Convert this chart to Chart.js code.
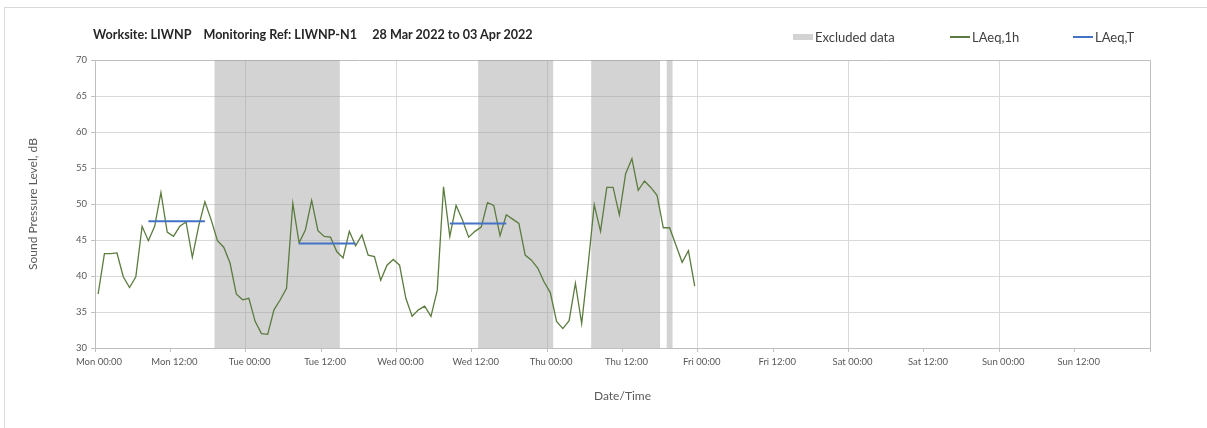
<!DOCTYPE html>
<html>
<head>
<meta charset="utf-8">
<script src="https://cdn.jsdelivr.net/npm/chart.js@4.4.1/dist/chart.umd.min.js"></script>
<style>
  html, body { margin: 0; padding: 0; background: #fff; }
  #wrap { position: relative; width: 1207px; height: 428px; overflow: hidden; font-family: Lato, "Open Sans", sans-serif; }
  #frame { position: absolute; left: 4px; top: 7px; right: -2px; bottom: -2px; border-left: 1px solid #d9d9d9; border-top: 1px solid #d9d9d9; pointer-events: none; }
  #title { position: absolute; left: 93px; top: 27px; font-weight: bold; font-size: 12.6px; color: #262626; white-space: pre; }
  .leg { position: absolute; top: 29px; font-size: 13px; color: #404040; white-space: nowrap; display: flex; align-items: center; }
  .leg .sw { display: inline-block; width: 20px; margin-right: 2px; }
  #chartCanvas { position: absolute; left: 0; top: 0; }
</style>
</head>
<body>
<div id="wrap">
  <canvas id="chartCanvas" width="1207" height="428"></canvas>
  <div id="frame"></div>
  <div id="title">Worksite: LIWNP    Monitoring Ref: LIWNP-N1     28 Mar 2022 to 03 Apr 2022</div>
  <div class="leg" style="left:793px"><span class="sw" style="height:6px;background:#d3d3d3"></span>Excluded data</div>
  <div class="leg" style="left:950px"><span class="sw" style="height:1.3px;background:#5b7b3f"></span>LAeq,1h</div>
  <div class="leg" style="left:1073px"><span class="sw" style="height:2px;background:#4472c4"></span>LAeq,T</div>
</div>
<script>
// ------- Data (hours from Mon 28 Mar 00:00) -------
const xTickLabels = [
  "Mon 00:00", "Mon 12:00", "Tue 00:00", "Tue 12:00", "Wed 00:00", "Wed 12:00", "Thu 00:00",
  "Thu 12:00", "Fri 00:00", "Fri 12:00", "Sat 00:00", "Sat 12:00", "Sun 00:00", "Sun 12:00"
];

// hourly LAeq, one value per hour, plotted mid-hour
const laeq1h = [
  37.5, 43.1, 43.1, 43.2, 39.9, 38.4, 39.9, 46.9, 44.9, 46.9, 51.6, 46.1,
  45.5, 46.9, 47.5, 42.6, 46.9, 50.3, 47.8, 44.9, 44.0, 41.8, 37.5, 36.7,
  36.9, 33.7, 32.0, 31.9, 35.3, 36.7, 38.3, 50.1, 44.6, 46.4, 50.5, 46.3,
  45.5, 45.4, 43.4, 42.5, 46.2, 44.2, 45.7, 42.9, 42.7, 39.4, 41.5, 42.3,
  41.5, 36.9, 34.4, 35.3, 35.8, 34.4, 38.0, 52.4, 45.5, 49.8, 47.8, 45.4,
  46.2, 46.8, 50.2, 49.8, 45.6, 48.5, 47.9, 47.3, 42.9, 42.2, 41.1, 39.2,
  37.7, 33.7, 32.7, 33.8, 39.0, 33.4, 41.3, 49.9, 46.2, 52.3, 52.3, 48.5,
  54.2, 56.3, 51.9, 53.2, 52.3, 51.2, 46.7, 46.7, 44.3, 41.9, 43.5, 38.6
];

// LAeq,T over the daytime periods
const periodStart = [8.5, 32.5, 56.5];
const periodEnd = [17.5, 41.5, 65.5];
const periodLevel = [47.6, 44.5, 47.3];

// excluded data ranges (hours)
const excludedStart = [19, 61, 79, 91];
const excludedEnd = [39, 73, 90, 92];

// ------- Build datasets -------
const laeqPoints = laeq1h.map((v, i) => ({ x: i + 0.5, y: v }));

const laeqTPoints = [];
periodStart.forEach((s, i) => {
  laeqTPoints.push({ x: s, y: periodLevel[i] }, { x: periodEnd[i], y: periodLevel[i] }, { x: periodEnd[i], y: null });
});

const excludedPoints = [];
excludedStart.forEach((s, i) => {
  excludedPoints.push({ x: s, y: 70 }, { x: excludedEnd[i], y: 70 }, { x: excludedEnd[i], y: null });
});

const tickFont = { family: "Lato, 'Open Sans', sans-serif", size: 9.5 };
const titleFont = { family: "Lato, 'Open Sans', sans-serif", size: 12 };

// ------- Chart -------
const ctx = document.getElementById("chartCanvas").getContext("2d");
new Chart(ctx, {
  type: "line",
  data: {
    datasets: [
      { label: "LAeq,T", data: laeqTPoints, borderColor: "#4472c4", borderWidth: 2, pointRadius: 0, fill: false },
      { label: "LAeq,1h", data: laeqPoints, borderColor: "#5b7b3f", borderWidth: 1.3, pointRadius: 0, fill: false, tension: 0 },
      { label: "Excluded data", data: excludedPoints, borderColor: "rgba(0,0,0,0)", borderWidth: 0,
        backgroundColor: "rgba(160,160,160,0.46)", pointRadius: 0, fill: "start" },
    ],
  },
  options: {
    responsive: false,
    animation: false,
    layout: { padding: { top: 60, right: 57, left: 0, bottom: 0 } },
    plugins: { legend: { display: false }, tooltip: { enabled: false } },
    scales: {
      x: {
        type: "linear",
        min: 0,
        max: 168,
        afterFit: (s) => { s.height = 80; },
        ticks: {
          stepSize: 12,
          autoSkip: false,
          maxRotation: 0,
          padding: 4,
          labelOffset: 4,
          color: "#595959",
          font: tickFont,
          callback: (v) => xTickLabels[v / 12] || "",
        },
        grid: {
          color: (c) => (c.tick.value === 168 ? "#bfbfbf" : c.tick.value % 24 === 0 ? "#d9d9d9" : "rgba(0,0,0,0)"),
          tickColor: "#bfbfbf",
          tickLength: 4,
        },
        border: { color: "#bfbfbf" },
        title: { display: true, text: "Date/Time", color: "#595959", font: titleFont, padding: { top: 0, bottom: 25 } },
      },
      y: {
        min: 30,
        max: 70,
        afterFit: (s) => { s.width = 95; },
        ticks: { stepSize: 5, padding: 4, color: "#595959", font: tickFont },
        grid: {
          color: (c) => (c.tick.value === 70 ? "#bfbfbf" : "#d9d9d9"),
          tickColor: "#bfbfbf",
          tickLength: 4,
        },
        border: { color: "#bfbfbf" },
        title: { display: true, text: "Sound Pressure Level, dB", color: "#595959", font: titleFont, padding: { top: 26, bottom: 0 } },
      },
    },
  },
});
</script>
</body>
</html>
